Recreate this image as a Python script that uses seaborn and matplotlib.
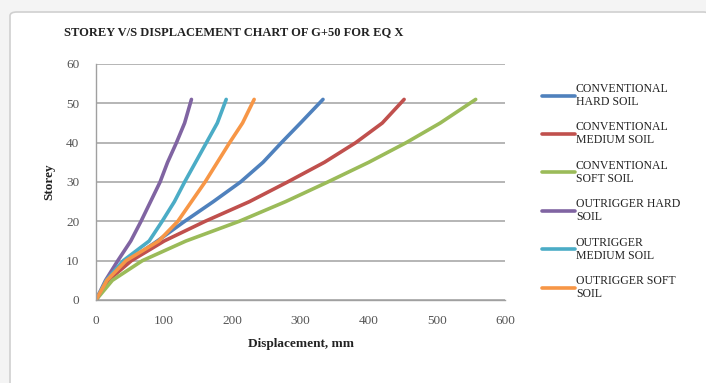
import matplotlib
matplotlib.use("Agg")
import matplotlib.pyplot as plt
from matplotlib.patches import FancyBboxPatch
import seaborn as sns
import pandas as pd

# Storey levels and lateral displacement (mm) for each structural system / soil type
storeys = [0, 5, 10, 15, 20, 25, 30, 35, 40, 45, 51]
conv_hard = [0, 16, 48, 90, 130, 172, 212, 245, 272, 300, 333]
conv_medium = [0, 18, 52, 100, 160, 225, 281, 335, 381, 420, 452]
conv_soft = [0, 24, 68, 132, 210, 278, 340, 400, 455, 505, 557]
outr_hard = [0, 14, 32, 51, 66, 80, 94, 105, 118, 130, 140]
outr_medium = [0, 15, 40, 78, 97, 115, 130, 146, 162, 178, 191]
outr_soft = [0, 16, 44, 92, 120, 140, 160, 178, 196, 215, 232]

series_names = [
    "CONVENTIONAL\nHARD SOIL",
    "CONVENTIONAL\nMEDIUM SOIL",
    "CONVENTIONAL\nSOFT SOIL",
    "OUTRIGGER HARD\nSOIL",
    "OUTRIGGER\nMEDIUM SOIL",
    "OUTRIGGER SOFT\nSOIL",
]
series_values = [conv_hard, conv_medium, conv_soft, outr_hard, outr_medium, outr_soft]
colors = ["#4F81BD", "#C0504D", "#9BBB59", "#8064A2", "#4BACC6", "#F79646"]

x_ticks = [0, 100, 200, 300, 400, 500, 600]
y_ticks = [0, 10, 20, 30, 40, 50, 60]

rows = []
for name, vals in zip(series_names, series_values):
    for s, d in zip(storeys, vals):
        rows.append({"Displacement": d, "Storey": s, "Series": name})
df = pd.DataFrame(rows)

sns.set_theme(style="white")
plt.rcParams["font.family"] = ["Liberation Serif", "DejaVu Serif"]

fig = plt.figure(figsize=(7.06, 3.83), dpi=100)
fig.patch.set_facecolor("#f4f4f4")
frame = FancyBboxPatch((10 / 706, -0.02), 700 / 706, 1 - 12 / 383 + 0.02,
                       boxstyle="round,pad=0,rounding_size=0.01",
                       transform=fig.transFigure, facecolor="white",
                       edgecolor="#d0d0d0", linewidth=1.2, zorder=-10)
fig.patches.append(frame)

ax = fig.add_axes([96 / 706, 1 - 300 / 383, (505 - 96) / 706, (300 - 64) / 383])
ax.set_facecolor("white")
ax.patch.set_alpha(0)

sns.lineplot(data=df, x="Displacement", y="Storey", hue="Series",
             hue_order=series_names, palette=colors, sort=False,
             estimator=None, linewidth=2.6, ax=ax, legend=True)
for line in ax.get_lines():
    line.set_solid_joinstyle("round")
    line.set_solid_capstyle("round")

ax.set_xlim(0, 600)
ax.set_ylim(0, 60)
ax.set_xticks(x_ticks)
ax.set_yticks(y_ticks)
ax.tick_params(axis="both", labelsize=9.5, colors="#555555", length=3)
ax.tick_params(axis="x", direction="in", length=3, color="#999999", pad=11)
ax.tick_params(axis="y", direction="out", length=3, color="#999999", pad=9)
ax.yaxis.grid(True, color="#b0b0b0", linewidth=1.3)
ax.set_axisbelow(True)
for side in ["top", "right"]:
    ax.spines[side].set_visible(False)
for side in ["left", "bottom"]:
    ax.spines[side].set_color("#a0a0a0")
    ax.spines[side].set_linewidth(1.0)

ax.set_xlabel("Displacement, mm", fontsize=9.5, fontweight="bold", color="#222222", labelpad=8)
ax.set_ylabel("Storey", fontsize=9.5, fontweight="bold", color="#222222", labelpad=8)

fig.text(234 / 706, 1 - 32 / 383, "STOREY V/S DISPLACEMENT CHART OF G+50 FOR EQ X",
         ha="center", va="center", fontsize=9, fontweight="bold", color="#222222")

handles, labels = ax.get_legend_handles_labels()
ax.get_legend().remove()
leg = fig.legend(handles, labels, loc="upper left",
                 bbox_to_anchor=(537 / 706, 1 - 78 / 383), frameon=False,
                 fontsize=8.5, handlelength=2.8, handletextpad=0.1,
                 labelspacing=1.15, borderaxespad=0)
for t in leg.get_texts():
    t.set_color("#222222")
    t.set_linespacing(1.1)
for line in leg.get_lines():
    line.set_linewidth(2.6)

fig.savefig("out.png", dpi=100)
